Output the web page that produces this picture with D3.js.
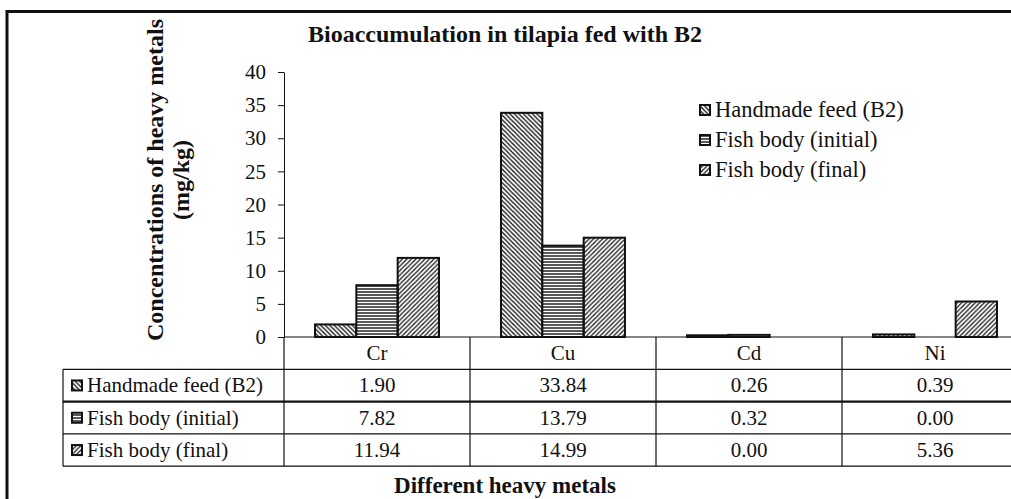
<!DOCTYPE html>
<html>
<head>
<meta charset="utf-8">
<script src="https://cdn.jsdelivr.net/npm/d3@7"></script>
<style>
  body { margin: 0; background: #fff; }
  text { font-family: "Liberation Serif", "Times New Roman", serif; fill: #111; }
</style>
</head>
<body>
<div id="chart"></div>
<script>
// données
const categories = ['Cr', 'Cu', 'Cd', 'Ni'];
const seriesNames = ['Handmade feed (B2)', 'Fish body (initial)', 'Fish body (final)'];
const handmadeFeed = [1.90, 33.84, 0.26, 0.39];
const fishInitial = [7.82, 13.79, 0.32, 0.00];
const fishFinal = [11.94, 14.99, 0.00, 5.36];
const yTicks = [0, 5, 10, 15, 20, 25, 30, 35, 40];

const seriesValues = [handmadeFeed, fishInitial, fishFinal];
const patternIds = ['p-feed', 'p-initial', 'p-final'];

const width = 1011, height = 499;
const plot = { left: 284, right: 1028, top: 72, bottom: 337 };
const rowH = 32.3;

const svg = d3.select('#chart')
  .append('svg')
  .attr('width', width)
  .attr('height', height);

// motifs de remplissage
const defs = svg.append('defs');
defs.append('pattern')
  .attr('id', 'p-feed').attr('patternUnits', 'userSpaceOnUse')
  .attr('width', 4.5).attr('height', 4.5)
  .append('path')
  .attr('d', 'M-1,-1 L5.5,5.5 M-1,3.5 L1,5.5 M3.5,-1 L5.5,1')
  .attr('stroke', '#111').attr('stroke-width', 1.3);
const pInit = defs.append('pattern')
  .attr('id', 'p-initial').attr('patternUnits', 'userSpaceOnUse')
  .attr('width', 4).attr('height', 3);
pInit.append('rect').attr('width', 4).attr('height', 3).attr('fill', '#fff');
pInit.append('line')
  .attr('x1', 0).attr('x2', 4).attr('y1', 1).attr('y2', 1)
  .attr('stroke', '#111').attr('stroke-width', 1.4);
defs.append('pattern')
  .attr('id', 'p-final').attr('patternUnits', 'userSpaceOnUse')
  .attr('width', 4.5).attr('height', 4.5)
  .append('path')
  .attr('d', 'M-1,5.5 L5.5,-1 M-1,1 L1,-1 M3.5,5.5 L5.5,3.5')
  .attr('stroke', '#111').attr('stroke-width', 1.2);

// cadre
svg.append('path')
  .attr('d', `M7,${height} L7,11.5 L${width},11.5`)
  .attr('fill', 'none').attr('stroke', '#111').attr('stroke-width', 3);

// échelles
const x = d3.scaleBand().domain(categories).range([plot.left, plot.right]);
const barW = x.bandwidth() / 4.5;
const xs = d3.scaleBand()
  .domain(d3.range(seriesNames.length))
  .range([(x.bandwidth() - 3 * barW) / 2, (x.bandwidth() + 3 * barW) / 2]);
const y = d3.scaleLinear().domain([0, 40]).range([plot.bottom, plot.top]);

// barres
seriesValues.forEach((vals, si) => {
  svg.append('g')
    .selectAll('rect')
    .data(categories.map((c, i) => ({ cat: c, v: vals[i] })).filter(d => d.v > 0))
    .join('rect')
    .attr('x', d => x(d.cat) + xs(si))
    .attr('y', d => y(d.v))
    .attr('width', xs.bandwidth())
    .attr('height', d => y(0) - y(d.v))
    .attr('fill', `url(#${patternIds[si]})`)
    .attr('stroke', '#111')
    .attr('stroke-width', 2);
});

// axe y
const yAxis = svg.append('g')
  .attr('transform', `translate(${plot.left},0)`)
  .call(d3.axisLeft(y).tickValues(yTicks).tickSize(6).tickSizeOuter(0).tickPadding(12));
yAxis.select('.domain').attr('stroke', '#111');
yAxis.selectAll('.tick line').attr('stroke', '#111');
yAxis.selectAll('.tick text')
  .style('font-family', '"Liberation Serif", serif')
  .style('font-size', '21px')
  .attr('fill', '#111');

// tableau de données
const table = svg.append('g');
const rowsTop = plot.bottom;
const tableLeft = 63;
const lineStroke = (x1, y1, x2, y2, w) => table.append('line')
  .attr('x1', x1).attr('y1', y1).attr('x2', x2).attr('y2', y2)
  .attr('stroke', '#111').attr('stroke-width', w);

lineStroke(plot.left, rowsTop, width, rowsTop, 1.2);
for (let r = 1; r <= 4; r++) {
  lineStroke(tableLeft, rowsTop + r * rowH, width, rowsTop + r * rowH, r === 2 ? 2.2 : 1.2);
}
lineStroke(tableLeft, rowsTop + rowH, tableLeft, rowsTop + 4 * rowH, 1.2);
categories.forEach(c => {
  lineStroke(x(c), rowsTop, x(c), rowsTop + 4 * rowH, 1.2);
});

table.selectAll('text.cat')
  .data(categories)
  .join('text')
  .attr('class', 'cat')
  .attr('x', d => x(d) + x.bandwidth() / 2)
  .attr('y', rowsTop + rowH / 2 + 7)
  .attr('text-anchor', 'middle')
  .style('font-size', '21px')
  .text(d => d);

seriesNames.forEach((name, si) => {
  const cy = rowsTop + (si + 1) * rowH + rowH / 2;
  table.append('rect')
    .attr('x', 72).attr('y', cy - 5)
    .attr('width', 10).attr('height', 10)
    .attr('fill', `url(#${patternIds[si]})`)
    .attr('stroke', '#111').attr('stroke-width', 2);
  table.append('text')
    .attr('x', 87).attr('y', cy + 7)
    .style('font-size', '21px')
    .text(name);
  table.selectAll(null)
    .data(seriesValues[si])
    .join('text')
    .attr('x', (d, i) => x(categories[i]) + x.bandwidth() / 2)
    .attr('y', cy + 7)
    .attr('text-anchor', 'middle')
    .style('font-size', '21px')
    .text(d => d.toFixed(2));
});

// légende
const legend = svg.append('g');
seriesNames.forEach((name, si) => {
  const cy = 110 + si * 30;
  legend.append('rect')
    .attr('x', 700).attr('y', cy - 5)
    .attr('width', 10).attr('height', 10)
    .attr('fill', `url(#${patternIds[si]})`)
    .attr('stroke', '#111').attr('stroke-width', 2);
  legend.append('text')
    .attr('x', 715).attr('y', cy + 7)
    .style('font-size', '22.5px')
    .text(name);
});

// titres
svg.append('text')
  .attr('x', 505).attr('y', 42)
  .attr('text-anchor', 'middle')
  .style('font-size', '24px').style('font-weight', 'bold')
  .text('Bioaccumulation in tilapia fed with B2');

svg.append('text')
  .attr('x', 505).attr('y', 493)
  .attr('text-anchor', 'middle')
  .style('font-size', '23px').style('font-weight', 'bold')
  .text('Different heavy metals');

const yTitle = svg.append('text')
  .attr('transform', 'translate(163,180) rotate(-90)')
  .attr('text-anchor', 'middle')
  .style('font-size', '24px').style('font-weight', 'bold');
yTitle.append('tspan').attr('x', 0).attr('y', 0).text('Concentrations of heavy metals');
yTitle.append('tspan').attr('x', 0).attr('y', 26).text('(mg/kg)');
</script>
</body>
</html>
